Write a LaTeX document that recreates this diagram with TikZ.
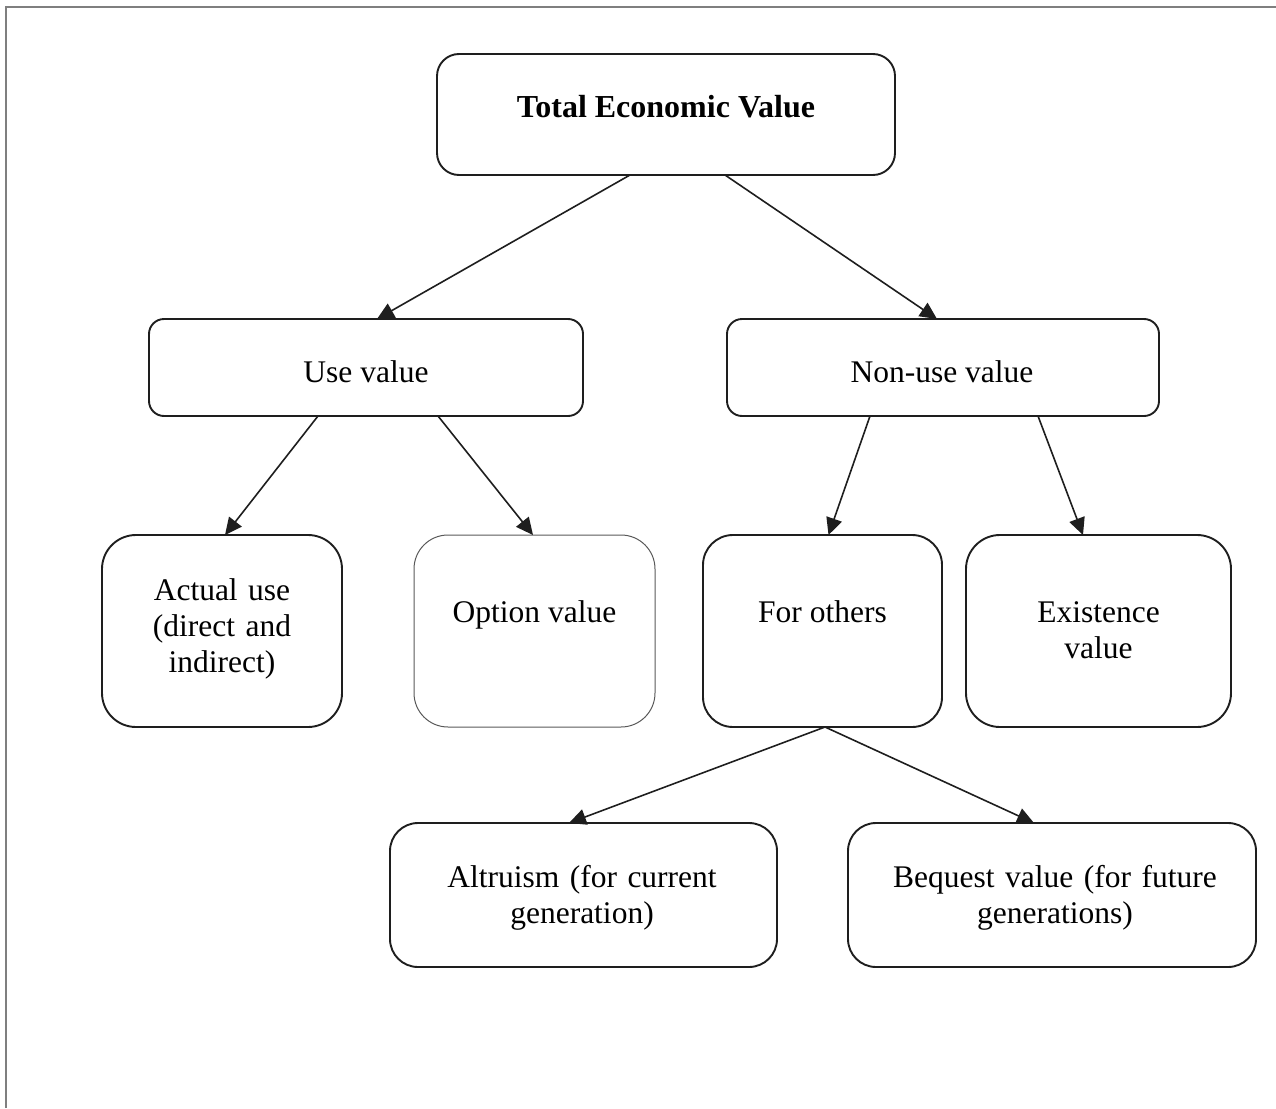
\documentclass[tikz,border=0pt]{standalone}
\usepackage{fontspec}
\setmainfont{Liberation Serif}
\usetikzlibrary{arrows.meta}
\definecolor{ink}{HTML}{1E1E1E}
\definecolor{framegray}{HTML}{7F7F7F}
\begin{document}
\begin{tikzpicture}[x=1pt,y=-1pt,
  box/.style={draw=ink, line width=1.9pt, inner sep=0pt, outer sep=0pt},
  lightbox/.style={draw=black!65, line width=1pt, inner sep=0pt, outer sep=0pt},
  lbl/.style={font=\fontsize{31.5}{36}\selectfont, inner sep=0pt, text=black},
  mlbl/.style={lbl, align=center, anchor=base},
  arr/.style={draw=ink, line width=1.6pt, -{Triangle[length=17pt,width=16pt]}},
  frameline/.style={draw=framegray, line width=2.2pt}
]
\useasboundingbox (0,0) rectangle (1276,1108);
% page frame
\coordinate (fr-bl) at (6,1108);
\coordinate (fr-tl) at (6,7);
\coordinate (fr-tr) at (1276,7);
\draw[frameline] (fr-bl) -- (fr-tl) -- (fr-tr);

% boxes
\node[box, minimum width=458pt, minimum height=121pt, rounded corners=22pt] (tev) at (666,114.5) {};
\node[box, minimum width=434pt, minimum height=97pt, rounded corners=15pt] (use) at (366,367.5) {};
\node[box, minimum width=432pt, minimum height=97pt, rounded corners=15pt] (nonuse) at (943,367.5) {};
\node[box, minimum width=240pt, minimum height=192pt, rounded corners=34pt] (actual) at (222,631) {};
\node[lightbox, minimum width=241pt, minimum height=192pt, rounded corners=34pt] (option) at (534.5,631) {};
\node[box, minimum width=239pt, minimum height=192pt, rounded corners=30pt] (others) at (822.5,631) {};
\node[box, minimum width=265pt, minimum height=192pt, rounded corners=34pt] (exist) at (1098.5,631) {};
\node[box, minimum width=387pt, minimum height=144pt, rounded corners=28pt] (altru) at (583.5,895) {};
\node[box, minimum width=408pt, minimum height=144pt, rounded corners=28pt] (bequest) at (1052,895) {};

% texts
\node[lbl, anchor=base, font=\fontsize{32}{36}\selectfont\bfseries] (tev-t) at (666,117) {Total Economic Value};
\node[lbl, anchor=base] (use-t) at (366,382) {Use value};
\node[lbl, anchor=base] (nonuse-t) at (942,382) {Non-use value};
\node[mlbl, text width=230pt] (actual-t) at (222,600) {Actual use\\(direct and\\indirect)};
\node[lbl, anchor=base] (option-t) at (534.5,622) {Option value};
\node[lbl, anchor=base] (others-t) at (822.5,622) {For others};
\node[mlbl, text width=250pt] (exist-t) at (1098.5,622) {Existence\\value};
\node[mlbl, text width=380pt] (altru-t) at (582,887) {Altruism (for current\\generation)};
\node[mlbl, text width=400pt] (bequest-t) at (1055,887) {Bequest value (for future\\generations)};

% connectors
\draw[arr] ([xshift=-36pt]tev.south) -- ([xshift=11pt]use.north);
\draw[arr] ([xshift=59pt]tev.south) -- ([xshift=-6pt]nonuse.north);
\draw[arr] ([xshift=-48pt]use.south) -- ([xshift=3pt]actual.north);
\draw[arr] ([xshift=72pt]use.south) -- ([xshift=-1.5pt]option.north);
\draw[arr] ([xshift=-73pt]nonuse.south) -- ([xshift=6pt]others.north);
\draw[arr] ([xshift=95pt]nonuse.south) -- ([xshift=-15.5pt]exist.north);
\draw[arr] ([xshift=2.5pt]others.south) -- ([xshift=-14.5pt]altru.north);
\draw[arr] ([xshift=2.5pt]others.south) -- ([xshift=-18pt]bequest.north);
\end{tikzpicture}
\end{document}
